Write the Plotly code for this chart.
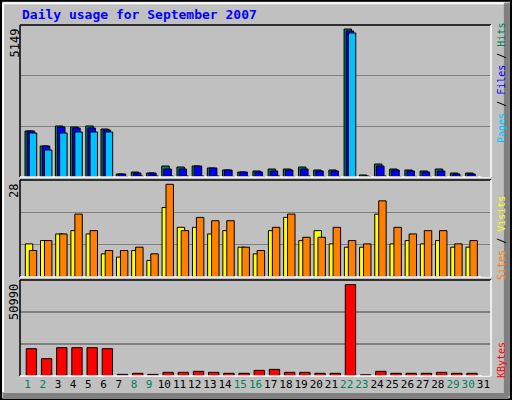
import plotly.graph_objects as go

days = list(range(1, 32))
hits = [1601, 1079, 1775, 1740, 1775, 1670, 104, 174, 139, 383, 348, 383, 313, 244, 174, 209,
        278, 278, 348, 244, 244, 5149, 70, 452, 278, 244, 209, 278, 139, 139, 0]
files = [1601, 1079, 1740, 1705, 1705, 1636, 104, 139, 139, 278, 278, 383, 313, 244, 174, 174,
         209, 244, 278, 209, 209, 5080, 35, 383, 244, 209, 174, 209, 104, 104, 0]
pages = [1531, 940, 1531, 1566, 1566, 1566, 17, 35, 35, 35, 35, 35, 35, 20, 20, 20,
         35, 20, 35, 20, 20, 5011, 17, 35, 20, 20, 20, 20, 20, 20, 0]
visits = [10, 11, 13, 14, 13, 7, 6, 8, 5, 21, 15, 15, 13, 14, 9, 7,
          14, 18, 11, 14, 10, 9, 9, 19, 10, 11, 10, 11, 9, 9, 0]
sites = [8, 11, 13, 19, 14, 8, 8, 9, 7, 28, 14, 18, 17, 17, 9, 8,
         15, 19, 12, 12, 15, 11, 10, 23, 15, 13, 14, 14, 10, 11, 0]
kbytes = [15240, 9660, 15800, 15800, 15800, 15240, 900, 1500, 900, 2050, 2050, 2600, 2050, 1500, 1500, 3150,
          3700, 2050, 2050, 1500, 1500, 50990, 700, 2600, 1500, 1500, 1500, 2050, 1500, 1500, 0]
weekend = [1, 2, 8, 9, 15, 16, 22, 23, 29, 30]

GREEN = "#00805c"
FONT = "DejaVu Sans Mono"

fig = go.Figure()
line = dict(color="black", width=1)

fig.add_trace(go.Bar(x=days, y=hits, offset=-0.17, width=0.49, marker=dict(color=GREEN, line=line), xaxis="x", yaxis="y"))
fig.add_trace(go.Bar(x=days, y=files, offset=-0.03, width=0.49, marker=dict(color="#0000ff", line=line), xaxis="x", yaxis="y"))
fig.add_trace(go.Bar(x=days, y=pages, offset=0.11, width=0.49, marker=dict(color="#00c0ff", line=line), xaxis="x", yaxis="y"))
fig.add_trace(go.Bar(x=days, y=visits, offset=-0.15, width=0.49, marker=dict(color="#ffff00", line=line), xaxis="x2", yaxis="y2"))
fig.add_trace(go.Bar(x=days, y=sites, offset=0.11, width=0.49, marker=dict(color="#ff8000", line=line), xaxis="x2", yaxis="y2"))
fig.add_trace(go.Bar(x=days, y=kbytes, offset=-0.09, width=0.68, marker=dict(color="#ff0000", line=line), xaxis="x3", yaxis="y3"))

xd = [20 / 512, 491 / 512]
panels = [  # (top px, bottom px, range max)
    (25, 177, 5149 * 152 / 148),
    (180, 277, 28 * 97 / 92.7),
    (280, 376, 50990 * 96 / 91.4),
]

ticktext = [f"<span style='color:{GREEN}'>{d}</span>" if d in weekend else str(d) for d in days]
layout = dict(
    width=512, height=400, margin=dict(l=0, r=0, t=0, b=0),
    paper_bgcolor="#c0c0c0", plot_bgcolor="#c0c0c0",
    barmode="overlay", showlegend=False, bargap=0, hovermode=False,
    font=dict(family=FONT, size=12, color="black"),
)
for i, (top, bot, rmax) in enumerate(panels):
    sfx = "" if i == 0 else str(i + 1)
    layout["xaxis" + sfx] = dict(domain=xd, range=[0.5, 31.5], showgrid=False, zeroline=False,
                                 anchor="y" + sfx, showticklabels=(i == 2), tickvals=days,
                                 ticktext=ticktext, ticks="", tickangle=0,
                                 tickfont=dict(size=11, family=FONT))
    layout["yaxis" + sfx] = dict(domain=[(400 - bot) / 400, (400 - top) / 400], range=[0, rmax],
                                 anchor="x" + sfx, tickvals=[rmax / 3, rmax * 2 / 3],
                                 showticklabels=False, gridcolor="#808080", gridwidth=1.5,
                                 zeroline=False, ticks="")
fig.update_layout(**layout)

shapes = [
    dict(type="rect", xref="paper", yref="paper", x0=0.002, y0=0.002, x1=0.998, y1=0.998,
         line=dict(color="black", width=2)),
    dict(type="line", xref="paper", yref="paper", x0=0.006, y0=0.992, x1=0.985, y1=0.992,
         line=dict(color="white", width=2)),
    dict(type="line", xref="paper", yref="paper", x0=0.006, y0=0.992, x1=0.006, y1=0.02,
         line=dict(color="white", width=2)),
    dict(type="line", xref="paper", yref="paper", x0=0.006, y0=0.01, x1=0.993, y1=0.01,
         line=dict(color="#808080", width=6)),
    dict(type="line", xref="paper", yref="paper", x0=0.99, y0=0.01, x1=0.99, y1=0.992,
         line=dict(color="#808080", width=6)),
]
for top, bot, _ in panels:
    y0, y1 = (400 - bot) / 400, (400 - top) / 400
    shapes += [
        dict(type="line", xref="paper", yref="paper", x0=xd[0], y0=y1, x1=xd[1], y1=y1, line=dict(color="black", width=1.5)),
        dict(type="line", xref="paper", yref="paper", x0=xd[0], y0=y0, x1=xd[0], y1=y1, line=dict(color="black", width=1.5)),
        dict(type="line", xref="paper", yref="paper", x0=xd[0], y0=y0, x1=xd[1], y1=y0, line=dict(color="white", width=1.5)),
        dict(type="line", xref="paper", yref="paper", x0=xd[1], y0=y0, x1=xd[1], y1=y1, line=dict(color="white", width=1.5)),
    ]
fig.update_layout(shapes=shapes)

ann = [
    dict(text="<b>Daily usage for September 2007</b>", x=20 / 512, y=1 - 15 / 400, xanchor="left",
         yanchor="middle", font=dict(color="#0000ff", size=13, family=FONT)),
    dict(text="5149", x=14 / 512, y=1 - 27 / 400, textangle=-90, yanchor="top"),
    dict(text="28", x=14 / 512, y=1 - 182 / 400, textangle=-90, yanchor="top"),
    dict(text="50990", x=14 / 512, y=1 - 282 / 400, textangle=-90, yanchor="top"),
]
# right-hand rotated labels: (html text, centre y px)
right_labels = [
    (f"<span style='color:#00c0ff'>Pages</span> / <span style='color:#0000ff'>Files</span> / "
     f"<span style='color:{GREEN}'>Hits</span>", 83),
    ("<span style='color:#ff8000'>Sites</span> / <span style='color:#ffff00'>Visits</span>", 238),
    ("<span style='color:#ff0000'>KBytes</span>", 360),
]
for t, yc in right_labels:
    ann.append(dict(text=t, x=501 / 512, y=1 - yc / 400, textangle=-90, yanchor="middle",
                    font=dict(size=10, family=FONT, color="black")))
for a in ann:
    a.setdefault("xref", "paper")
    a.setdefault("yref", "paper")
    a.setdefault("showarrow", False)
    a.setdefault("xanchor", "center")
    a.setdefault("font", dict(size=12, family=FONT))
fig.update_layout(annotations=ann)

fig.write_html("out.html", config={"displayModeBar": False, "staticPlot": True},
               post_script="document.body.style.margin='0';")
